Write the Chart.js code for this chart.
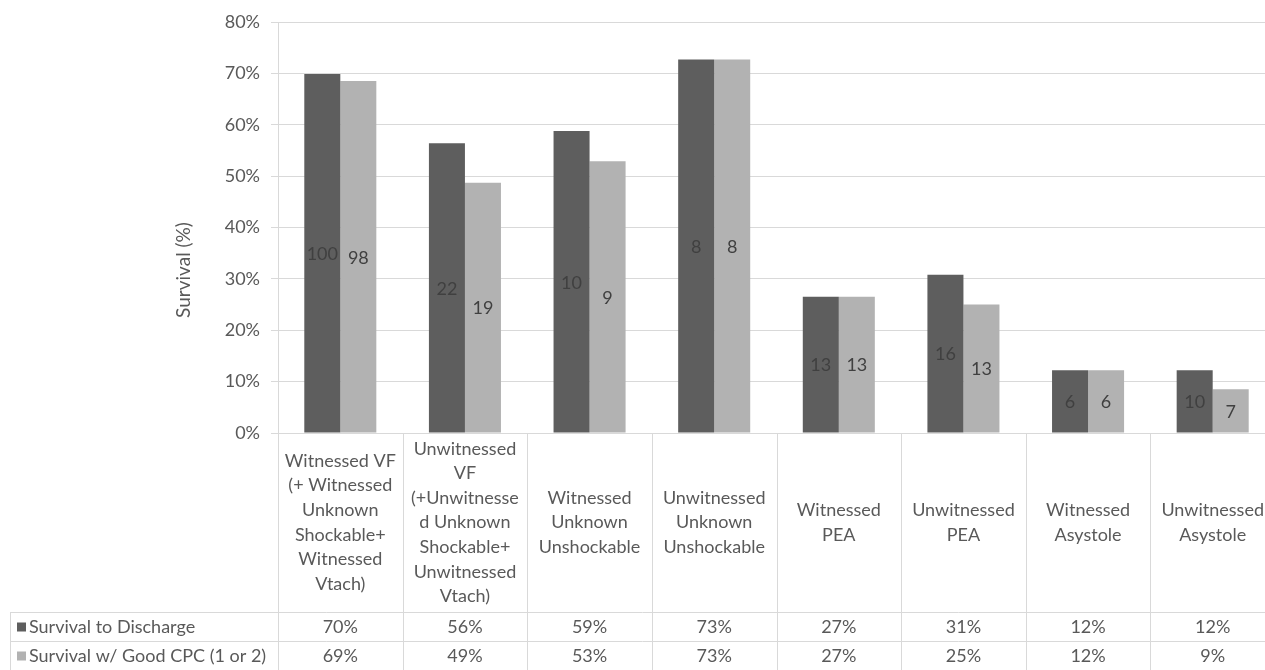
<!DOCTYPE html>
<html><head><meta charset="utf-8">
<script src="https://cdn.jsdelivr.net/npm/chart.js@4.4.1/dist/chart.umd.min.js"></script>
<style>html,body{margin:0;padding:0;overflow:hidden;background:#fff}canvas{display:block}</style>
</head><body>
<canvas id="c" width="1275" height="670"></canvas>
<script>
// ---- data ----
const categories = [
  ["Witnessed VF", "(+ Witnessed", "Unknown", "Shockable+", "Witnessed", "Vtach)"],
  ["Unwitnessed", "VF", "(+Unwitnesse", "d Unknown", "Shockable+", "Unwitnessed", "Vtach)"],
  ["Witnessed", "Unknown", "Unshockable"],
  ["Unwitnessed", "Unknown", "Unshockable"],
  ["Witnessed", "PEA"],
  ["Unwitnessed", "PEA"],
  ["Witnessed", "Asystole"],
  ["Unwitnessed", "Asystole"]
];
const seriesNames = ["Survival to Discharge", "Survival w/ Good CPC (1 or 2)"];
const dischargePct = [69.9, 56.4, 58.8, 72.7, 26.5, 30.8, 12.2, 12.2];
const goodCpcPct   = [68.5, 48.7, 52.9, 72.7, 26.5, 25.0, 12.2, 8.5];
const dischargeCounts = [100, 22, 10, 8, 13, 16, 6, 10];
const goodCpcCounts   = [98, 19, 9, 8, 13, 13, 6, 7];
const yTickValues = [0, 10, 20, 30, 40, 50, 60, 70, 80];
const yAxisTitle = "Survival (%)";

// ---- style ----
const FONT = 'Lato, "Open Sans", sans-serif';
const TEXT = '#595959';
const GRID = '#d9d9d9';
const DARK = '#5e5e5e';
const LIGHT = '#b2b2b2';

const tablePlugin = {
  id: 'excelTable',
  afterDatasetsDraw(chart) {
    const ctx = chart.ctx, ca = chart.chartArea, xs = chart.scales.x;
    const H = chart.height;
    ctx.save();
    // data labels (counts) in bar centers
    ctx.font = '18px ' + FONT;
    ctx.fillStyle = '#404040';
    ctx.textAlign = 'center';
    ctx.textBaseline = 'middle';
    chart.data.datasets.forEach((ds, di) => {
      const meta = chart.getDatasetMeta(di);
      meta.data.forEach((el, i) => {
        ctx.fillText(String(ds.counts[i]), el.x, (el.y + el.base) / 2 + 1);
      });
    });

    // table geometry
    const step = xs.getPixelForValue(1) - xs.getPixelForValue(0);
    const headTop = ca.bottom;
    const headBottom = 612;
    const rowH = 29;
    const tableLeft = 10;

    ctx.strokeStyle = GRID;
    ctx.lineWidth = 1;
    ctx.beginPath();
    // vertical column separators
    for (let i = 0; i <= categories.length; i++) {
      const x = Math.round(xs.getPixelForValue(0) - step / 2 + i * step) + 0.5;
      ctx.moveTo(x, headTop);
      ctx.lineTo(x, H);
    }
    // horizontal row lines
    for (let r = 0; r <= seriesNames.length; r++) {
      const y = headBottom + r * rowH + 0.5;
      ctx.moveTo(tableLeft, y);
      ctx.lineTo(chart.width, y);
    }
    // left border of table
    ctx.moveTo(tableLeft + 0.5, headBottom);
    ctx.lineTo(tableLeft + 0.5, H);
    ctx.stroke();

    // category labels, vertically centered in header cells
    ctx.fillStyle = TEXT;
    ctx.font = '18px ' + FONT;
    const lh = 24.6;
    const midY = (headTop + headBottom) / 2;
    categories.forEach((lines, i) => {
      const cx = xs.getPixelForValue(i);
      const y0 = midY - (lines.length - 1) * lh / 2;
      lines.forEach((t, k) => ctx.fillText(t, cx, y0 + k * lh));
    });

    // table rows
    const rowsVals = [dischargePct, goodCpcPct];
    const colors = [DARK, LIGHT];
    rowsVals.forEach((vals, r) => {
      const cy = headBottom + r * rowH + rowH / 2 + 1;
      ctx.fillStyle = colors[r];
      ctx.fillRect(17, cy - 5, 9, 9);
      ctx.fillStyle = TEXT;
      ctx.textAlign = 'left';
      ctx.fillText(seriesNames[r], 29, cy);
      ctx.textAlign = 'center';
      vals.forEach((v, i) => ctx.fillText(Math.round(v) + '%', xs.getPixelForValue(i), cy));
    });

    // y axis title
    ctx.save();
    ctx.translate(184, 270);
    ctx.rotate(-Math.PI / 2);
    ctx.font = '19px ' + FONT;
    ctx.fillStyle = TEXT;
    ctx.textAlign = 'center';
    ctx.textBaseline = 'middle';
    ctx.fillText(yAxisTitle, 0, 0);
    ctx.restore();

    ctx.restore();
  }
};

new Chart(document.getElementById('c'), {
  type: 'bar',
  data: {
    labels: categories.map(c => c.join(' ')),
    datasets: [
      { label: seriesNames[0], data: dischargePct, counts: dischargeCounts, backgroundColor: DARK },
      { label: seriesNames[1], data: goodCpcPct, counts: goodCpcCounts, backgroundColor: LIGHT }
    ]
  },
  options: {
    responsive: false,
    animation: false,
    devicePixelRatio: 1,
    layout: { padding: { left: 0, right: 0, top: 22, bottom: 670 - 433 } },
    datasets: { bar: { categoryPercentage: 0.578, barPercentage: 1.0 } },
    plugins: { legend: { display: false }, tooltip: { enabled: false } },
    scales: {
      x: { display: false, offset: true },
      y: {
        min: 0, max: 80,
        afterFit(s) { s.width = 278; },
        afterBuildTicks(s) { s.ticks = yTickValues.map(v => ({ value: v })); },
        ticks: { color: TEXT, font: { family: FONT, size: 18 }, padding: 11, callback: v => v + '%' },
        grid: { color: GRID, lineWidth: 1, tickLength: 7, drawTicks: true },
        border: { display: true, color: GRID }
      }
    }
  },
  plugins: [tablePlugin]
});
</script>
</body></html>
